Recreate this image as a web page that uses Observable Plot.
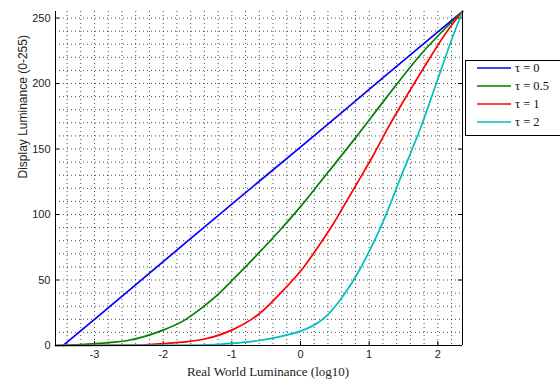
<!DOCTYPE html>
<html>
<head>
<meta charset="utf-8">
<script src="https://cdn.jsdelivr.net/npm/d3@7"></script>
<script src="https://cdn.jsdelivr.net/npm/@observablehq/plot@0.6"></script>
<style>
  html, body { margin: 0; padding: 0; background: #fff; }
</style>
</head>
<body>
<div id="chart"></div>
<script>
// ---- data ----
const xDomain = [-3.568, 2.359];
const yDomain = [0, 255];
const xTicks = [-3, -2, -1, 0, 1, 2];
const yTicks = [0, 50, 100, 150, 200, 250];
const seriesNames = ["τ = 0", "τ = 0.5", "τ = 1", "τ = 2"];
const seriesColors = ["#0000ff", "#008000", "#ff0000", "#00bfbf"];

const tau0 = [[-3.456, 0], [-3, 20], [-2, 64], [-1, 108], [0, 151.5], [1, 195.5], [2, 239.5], [2.359, 255]];
const tau05 = [[-3.568, 0], [-3.2, 0.6], [-2.87, 1.8], [-2.5, 4], [-2.04, 11], [-1.70, 19], [-1.456, 28],
  [-1.2, 39], [-0.971, 51], [-0.583, 72], [-0.3, 88], [0, 106], [0.291, 125],
  [0.777, 157], [1.262, 190], [1.748, 222], [2.359, 255]];
const tau1 = [[-3.568, 0], [-2.4, 0.3], [-1.99, 1.5], [-1.65, 3], [-1.41, 4.8],
  [-0.971, 12.5], [-0.583, 25], [-0.291, 40], [0.049, 60], [0.291, 78], [0.485, 93.5], [0.68, 111], [0.825, 124],
  [1.068, 146], [1.262, 165], [1.748, 208], [2.136, 240], [2.359, 255]];
const tau2 = [[-3.568, 0], [-1.45, 0.3], [-1.0, 1.6], [-0.583, 4], [-0.3, 6.8], [0, 11], [0.243, 17],
  [0.388, 23], [0.63, 38.5], [0.874, 59], [1.02, 74], [1.165, 90], [1.262, 102], [1.456, 128], [1.748, 166],
  [1.99, 202], [2.233, 238], [2.359, 255]];
const allSeries = [tau0, tau05, tau1, tau2];

// ---- build table ----
const rows = allSeries.flatMap((s, i) => s.map(([x, y]) => ({x, y, k: seriesNames[i]})));

const W = 560, H = 385;
const mL = 55, mR = 98, mT = 11, mB = 40;
const frameW = W - mL - mR, frameH = H - mT - mB;
const xMinor = d3.range(-3.4, 2.3, 0.2).map(v => Math.round(v * 10) / 10);
const yMinor = d3.range(10, 251, 10);

const chart = Plot.plot({
  width: W, height: H,
  marginLeft: mL, marginRight: mR, marginTop: mT, marginBottom: mB,
  style: {fontFamily: "'Liberation Sans', Arial, sans-serif", fontSize: "11px", color: "#222", background: "#fff"},
  x: {domain: xDomain},
  y: {domain: yDomain},
  color: {domain: seriesNames, range: seriesColors},
  marks: [
    Plot.gridX(xMinor, {stroke: "#000", strokeOpacity: 0.7, strokeDasharray: "1,3"}),
    Plot.gridY(yMinor, {stroke: "#000", strokeOpacity: 0.7, strokeDasharray: "1,3"}),
    Plot.axisX(xTicks, {tickSize: 0, tickPadding: 5, fontSize: 11, label: null, tickFormat: d => String(d)}),
    Plot.axisY(yTicks, {tickSize: 0, tickPadding: 5, fontSize: 11, label: null, tickFormat: d => String(d)}),
    Plot.tickX(xTicks, {x: d => d, stroke: "#000", insetTop: frameH - 4}),
    Plot.tickY(yTicks, {y: d => d, stroke: "#000", insetRight: frameW - 4}),
    Plot.tickY(yTicks, {y: d => d, stroke: "#000", insetLeft: frameW - 4}),
    Plot.line(rows, {x: "x", y: "y", z: "k", stroke: "k", strokeWidth: 1.7, curve: "monotone-x"}),
    Plot.ruleX([xDomain[0], xDomain[1]], {stroke: "#000", strokeWidth: 1}),
    Plot.ruleY([yDomain[0]], {stroke: "#000", strokeWidth: 1}),
    Plot.text(["Real World Luminance (log10)"], {frameAnchor: "bottom", dy: 30, dx: 9,
      fontFamily: "'Liberation Serif', 'Times New Roman', serif", fontSize: 13, fill: "#222"}),
    Plot.text(["Display Luminance (0-255)"], {frameAnchor: "left", dx: -32, rotate: -90,
      fontSize: 12, fill: "#222"})
  ]
});
document.getElementById("chart").appendChild(chart);

// ---- legend (outside the frame, right) ----
const svg = d3.select(chart);
const lg = svg.append("g").attr("text-anchor", "start");
lg.append("rect").attr("x", 465.5).attr("y", 60.5).attr("width", 100).attr("height", 75)
  .attr("fill", "#fff").attr("stroke", "#000").attr("stroke-width", 1);
const ly = [68, 86, 104, 122];
seriesNames.forEach((name, i) => {
  lg.append("line").attr("x1", 477).attr("x2", 511).attr("y1", ly[i]).attr("y2", ly[i])
    .attr("stroke", seriesColors[i]).attr("stroke-width", 1.7);
  lg.append("text").attr("x", 515).attr("y", ly[i]).attr("dy", "0.35em")
    .attr("text-anchor", "start")
    .attr("font-family", "'Liberation Serif', 'Times New Roman', serif").attr("font-size", 12.5)
    .attr("fill", "#111").text(name);
});
</script>
</body>
</html>
